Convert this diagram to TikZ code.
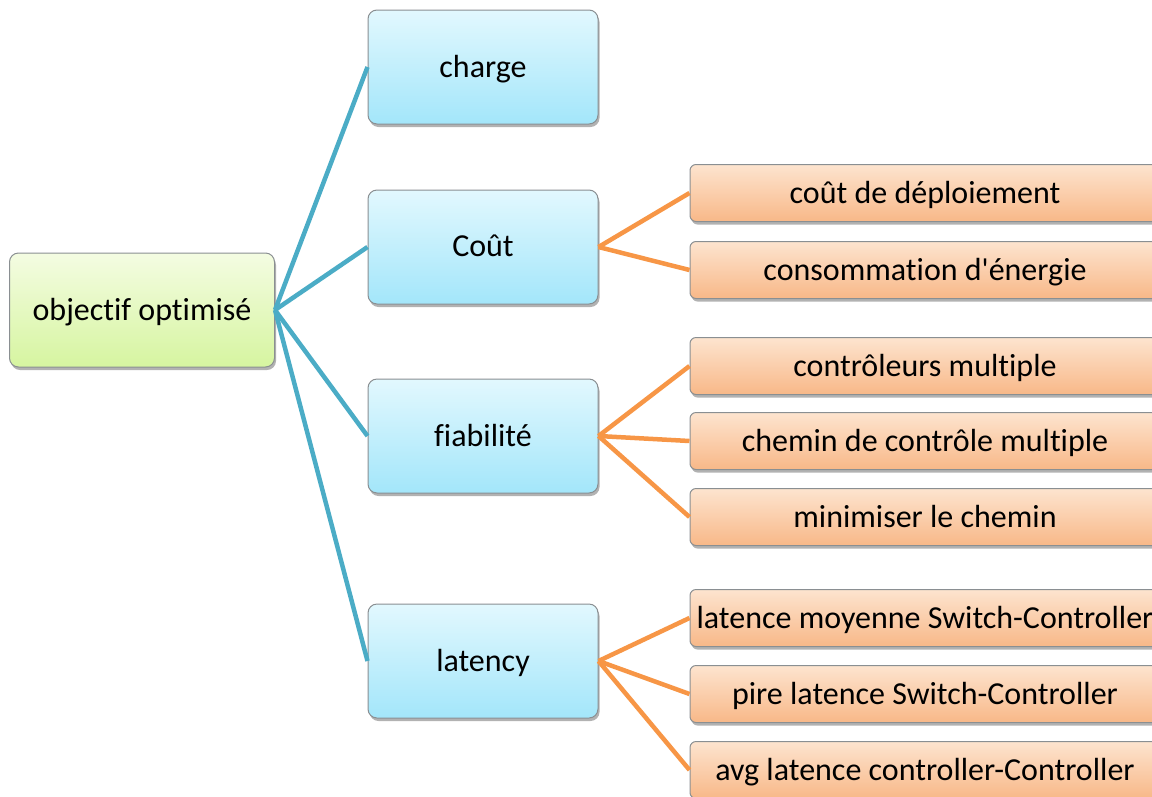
\documentclass[tikz,border=0pt]{standalone}
\usepackage{fontspec}
\setmainfont[Ligatures={NoCommon}]{Carlito}
\usetikzlibrary{shadows}

\definecolor{bluetop}{HTML}{E2F8FE}
\definecolor{bluebot}{HTML}{A3E6FA}
\definecolor{greentop}{HTML}{F4FCE2}
\definecolor{greenbot}{HTML}{D6F5A0}
\definecolor{orangetop}{HTML}{FDE4CF}
\definecolor{orangebot}{HTML}{F8B888}
\definecolor{boxedge}{HTML}{8A8F92}
\definecolor{blueline}{HTML}{4BACC6}
\definecolor{orangeline}{HTML}{F79646}

\tikzset{
  basebox/.style={draw=boxedge, line width=1pt, rounded corners=9pt, inner sep=0pt,
    font=\fontsize{32}{38}\selectfont, text=black, text depth=2pt,
    drop shadow={shadow xshift=1.5pt, shadow yshift=-3pt, opacity=0.3, fill=black}},
  rootbox/.style={basebox, top color=greentop, bottom color=greenbot,
    minimum width=265pt, minimum height=114pt},
  catbox/.style={basebox, top color=bluetop, bottom color=bluebot,
    minimum width=230pt, minimum height=114pt},
  leafbox/.style={basebox, rounded corners=6pt, top color=orangetop, bottom color=orangebot,
    minimum width=470pt, minimum height=57pt},
  bluelink/.style={draw=blueline, line width=4.5pt},
  orangelink/.style={draw=orangeline, line width=4.5pt},
}

\begin{document}
\begin{tikzpicture}[x=1pt, y=-1pt]
  \useasboundingbox (0,0) rectangle (1152,796);

  % root
  \node[rootbox] (root) at (142,310) {objectif optimisé};

  % categories
  \node[catbox] (charge) at (483,67)  {charge};
  \node[catbox] (cout)   at (483,247) {Coût};
  \node[catbox] (fiab)   at (483,436) {fiabilité};
  \node[catbox] (lat)    at (483,661) {latency};

  % leaves
  \node[leafbox] (deploy) at (925,193) {coût de déploiement};
  \node[leafbox] (energy) at (925,270) {consommation d\textquotesingle énergie};
  \node[leafbox] (multc)  at (925,366) {contrôleurs multiple};
  \node[leafbox] (multp)  at (925,441) {chemin de contrôle multiple};
  \node[leafbox] (minp)   at (925,517) {minimiser le chemin};
  \node[leafbox] (avgsc)  at (925,618) {latence moyenne Switch-Controller};
  \node[leafbox] (worst)  at (925,694) {pire latence Switch-Controller};
  \node[leafbox] (avgcc)  at (925,770) {avg latence controller-Controller};

  % links
  \foreach \c in {charge,cout,fiab,lat}
    \draw[bluelink] (root.east) -- (\c.west);
  \foreach \l in {deploy,energy}
    \draw[orangelink] (cout.east) -- (\l.west);
  \foreach \l in {multc,multp,minp}
    \draw[orangelink] (fiab.east) -- (\l.west);
  \foreach \l in {avgsc,worst,avgcc}
    \draw[orangelink] (lat.east) -- (\l.west);
\end{tikzpicture}
\end{document}
